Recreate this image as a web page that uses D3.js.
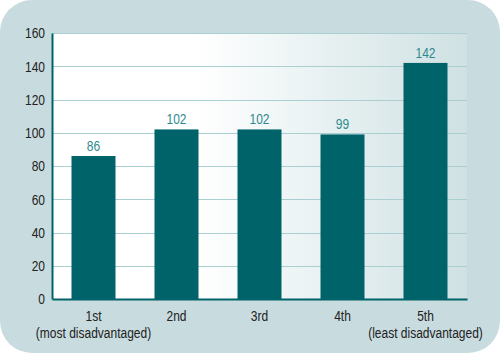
<!DOCTYPE html>
<html><head><meta charset="utf-8">
<script src="https://cdn.jsdelivr.net/npm/d3@7"></script>
<style>
html,body{margin:0;padding:0;background:#fff;}
svg{display:block;}
text{font-family:"Liberation Sans",Arial,sans-serif;}
</style></head>
<body><svg id="c" width="500" height="355"></svg>
<script>
const categories = ["1st|(most disadvantaged)", "2nd", "3rd", "4th", "5th|(least disadvantaged)"];
const values = [86, 102, 102, 99, 142];
const yTicks = [0, 20, 40, 60, 80, 100, 120, 140, 160];

const S = 0.8;      // horizontal condensing of text
const FS = 15;

const svg = d3.select("#c");
const m = {left: 52, right: 467, top: 33, bottom: 299};

svg.append("rect").attr("x", 0).attr("y", 0).attr("width", 500).attr("height", 353)
  .attr("rx", 32).attr("ry", 32).attr("fill", "#c8dcdf");

const defs = svg.append("defs");
const g = defs.append("linearGradient").attr("id", "pg").attr("x1", "0").attr("x2", "1").attr("y1", "0").attr("y2", "0");
g.append("stop").attr("offset", "0").attr("stop-color", "#ffffff");
g.append("stop").attr("offset", "0.35").attr("stop-color", "#ffffff");
g.append("stop").attr("offset", "1").attr("stop-color", "#cfe1e3");

const x = d3.scaleBand().domain(categories).range([m.left, m.right]).paddingInner(0.47).paddingOuter(0.235);
const y = d3.scaleLinear().domain([0, 160]).range([m.bottom, m.top]);

svg.append("rect").attr("x", m.left).attr("y", m.top).attr("width", m.right - m.left).attr("height", m.bottom - m.top)
  .attr("fill", "url(#pg)");

svg.append("g").selectAll("line").data(yTicks.filter(d => d > 0)).join("line")
  .attr("x1", m.left).attr("x2", m.right)
  .attr("y1", d => Math.round(y(d)) + 0.5).attr("y2", d => Math.round(y(d)) + 0.5)
  .attr("stroke", "#a9cfd0").attr("stroke-width", 1);

svg.append("g").selectAll("rect").data(values).join("rect")
  .attr("x", (d, i) => x(categories[i])).attr("width", x.bandwidth())
  .attr("y", d => y(d)).attr("height", d => y(0) - y(d))
  .attr("fill", "#00636a");

svg.append("g").selectAll("g").data(values).join("g")
  .attr("transform", (d, i) => `translate(${x(categories[i]) + x.bandwidth() / 2},${y(d) - 5})`)
  .append("text").attr("transform", `scale(${S},1)`)
  .attr("text-anchor", "middle").attr("font-size", FS).attr("fill", "#2e8a8f")
  .text(d => d);

const yAxis = d3.axisLeft(y).tickValues(yTicks).tickSize(0).tickPadding(7);
const ya = svg.append("g").attr("transform", `translate(${m.left},0)`).call(yAxis);
ya.attr("font-family", null).attr("font-size", null);
ya.select(".domain").attr("stroke", "#00636a").attr("stroke-width", 2);
ya.selectAll("text").attr("font-size", FS).attr("fill", "#222")
  .attr("x", -7 / S).attr("transform", `scale(${S},1)`);

const xAxis = d3.axisBottom(x).tickSize(0).tickPadding(8).tickFormat(() => "");
const xa = svg.append("g").attr("transform", `translate(0,${m.bottom})`).call(xAxis);
xa.attr("font-family", null).attr("font-size", null);
xa.select(".domain").attr("stroke", "#00636a").attr("stroke-width", 2);
xa.selectAll(".tick").each(function(d) {
  const lines = d.split("|");
  const t = d3.select(this).append("text").attr("fill", "#222").attr("font-size", FS)
    .attr("text-anchor", "middle").attr("transform", `scale(${S},1)`);
  lines.forEach((l, i) => t.append("tspan").attr("x", 0).attr("y", 22 + i * 17).text(l));
});
</script></body></html>
